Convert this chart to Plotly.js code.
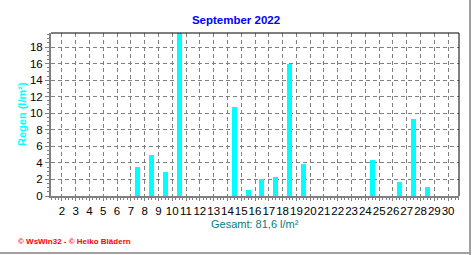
<!DOCTYPE html>
<html>
<head>
<meta charset="utf-8">
<script src="https://cdn.plot.ly/plotly-3.0.1.min.js"></script>
<style>
html,body{margin:0;padding:0;background:#fff;}
#wrap{position:relative;width:472px;height:255px;overflow:hidden;}
#chart{position:absolute;left:0;top:0;width:472px;height:255px;}
#fr{position:absolute;left:469px;top:0;width:2px;height:255px;background:#a0a0a0;}
#fb{position:absolute;left:0;top:252px;width:471px;height:2px;background:#a0a0a0;}
</style>
</head>
<body>
<div id="wrap"><div id="chart"></div><div id="fr"></div><div id="fb"></div></div>
<script>
// Day of month (bars) and daily rain in l/m²
const days = [1,2,3,4,5,6,7,8,9,10,11,12,13,14,15,16,17,18,19,20,21,22,23,24,25,26,27,28,29,30];
const rain = [0,0,0,0,0,0,3.5,5.0,2.9,19.7,0,0,0,10.7,0.7,2.0,2.3,16.0,3.9,0,0,0,0,4.3,0,1.7,9.3,1.1,0,0];
// x tick labels sit on the grid lines between the bars
const tickPos = [1.5,2.5,3.5,4.5,5.5,6.5,7.5,8.5,9.5,10.5,11.5,12.5,13.5,14.5,15.5,16.5,17.5,18.5,19.5,20.5,21.5,22.5,23.5,24.5,25.5,26.5,27.5,28.5,29.5];
const tickText = ["2","3","4","5","6","7","8","9","10","11","12","13","14","15","16","17","18","19","20","21","22","23","24","25","26","27","28","29","30"];
const titleText = "September 2022";
const yTitle = "Regen (l/m²)";
const totalText = "Gesamt: 81,6 l/m²";
const footerText = "© WsWin32 - © Heiko Blädern";

const font = "Arial, 'Liberation Sans', sans-serif";

const trace = {
  type: 'bar', x: days, y: rain, width: 0.36,
  marker: {color: '#00FFFF', line: {width: 0}},
  hoverinfo: 'skip'
};

const layout = {
  width: 472, height: 255,
  margin: {l: 51, r: 13, t: 33, b: 59, pad: 0},
  paper_bgcolor: '#ffffff', plot_bgcolor: '#ffffff',
  showlegend: false,
  bargap: 0,
  title: {text: titleText, font: {family: font, size: 11.5, color: '#0000FF', weight: 'bold'},
          x: 0.5, xref: 'container', xanchor: 'center', y: 1 - 19.5/255, yref: 'container', yanchor: 'middle'},
  xaxis: {
    range: [0.71, 30.29], fixedrange: true,
    tickmode: 'array', tickvals: tickPos, ticktext: tickText, tickangle: 0,
    ticks: 'outside', ticklen: 3, tickwidth: 1, tickcolor: '#808080',
    tickfont: {family: font, size: 11.5, color: '#000'},
    showgrid: true, gridcolor: '#808080', gridwidth: 1, griddash: '4px,3px',
    showline: true, linecolor: '#808080', linewidth: 2,
    zeroline: false,
    minor: {dtick: 0.25, tick0: 0.5, ticks: 'outside', ticklen: 2, tickcolor: '#808080', showgrid: false}
  },
  yaxis: {
    range: [0, 19.7], fixedrange: true,
    tickmode: 'linear', tick0: 0, dtick: 2,
    ticks: 'outside', ticklen: 4, tickwidth: 1, tickcolor: '#808080',
    tickfont: {family: font, size: 11.5, color: '#000'},
    showgrid: true, gridcolor: '#808080', gridwidth: 1, griddash: '4px,3px',
    showline: true, linecolor: '#808080', linewidth: 2,
    zeroline: false,
    minor: {dtick: 0.5, tick0: 0, ticks: 'outside', ticklen: 2, tickcolor: '#808080', showgrid: false}
  },
  shapes: [
    {type: 'line', xref: 'paper', yref: 'paper', x0: 0, x1: 1, y0: 1, y1: 1, line: {color: '#000', width: 1}},
    {type: 'line', xref: 'paper', yref: 'paper', x0: 1, x1: 1, y0: 0, y1: 1, line: {color: '#000', width: 1}}
  ],
  annotations: [
    {text: '<b>' + yTitle + '</b>', xref: 'paper', yref: 'paper', x: (22 - 51)/408, y: (196 - 114)/163,
     xanchor: 'center', yanchor: 'middle', textangle: -90, showarrow: false,
     font: {family: font, size: 11, color: '#00FFFF'}},
    {text: totalText, xref: 'paper', yref: 'paper', x: 0.5, y: (196 - 224)/163,
     xanchor: 'center', yanchor: 'middle', showarrow: false,
     font: {family: font, size: 11, color: '#008080'}},
    {text: '<b>' + footerText + '</b>', xref: 'paper', yref: 'paper', x: (16 - 51)/408, y: (196 - 241)/163,
     xanchor: 'left', yanchor: 'middle', showarrow: false,
     font: {family: font, size: 8, color: '#FF0000'}}
  ]
};

Plotly.newPlot('chart', [trace], layout, {displayModeBar: false, staticPlot: true});
</script>
</body>
</html>
